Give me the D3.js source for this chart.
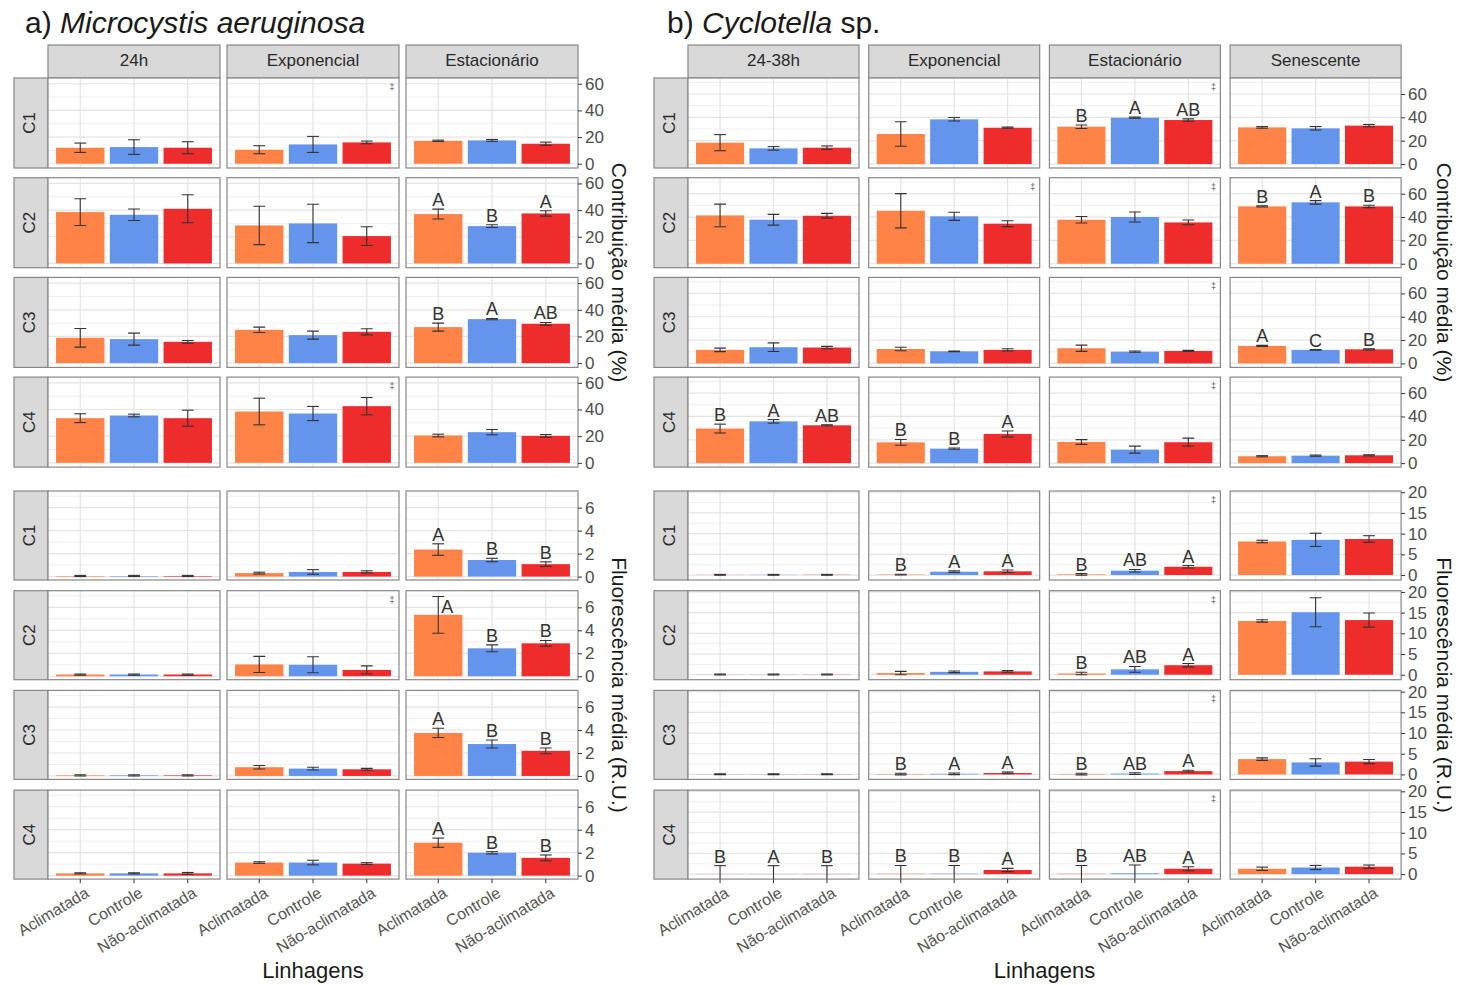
<!DOCTYPE html>
<html>
<head>
<meta charset="utf-8">
<script src="https://cdn.jsdelivr.net/npm/d3@7"></script>
<style>
  body { margin: 0; background: #fff; }
  text { font-family: "Liberation Sans", Arial, sans-serif; }
</style>
</head>
<body>
<svg width="1458" height="985"></svg>
<script>
// categories
var lineages = ["Aclimatada", "Controle", "Não-aclimatada"];
var components = ["C1", "C2", "C3", "C4"];
var phasesA = ["24h", "Exponencial", "Estacionário"];
var phasesB = ["24-38h", "Exponencial", "Estacionário", "Senescente"];

// tick labels
var ticksContrib = [0, 20, 40, 60];
var ticksFluorA = [0, 2, 4, 6];
var ticksFluorB = [0, 5, 10, 15, 20];

// a) Microcystis: [component][phase][lineage]
var contribA = [
  [[12, 12.5, 12], [10.5, 14.5, 16], [17.2, 17.5, 15]],
  [[38.5, 36.5, 41], [28.5, 30, 20.5], [37, 28, 37.5]],
  [[19, 18, 16], [25, 21, 23.5], [27, 33, 29.5]],
  [[33.5, 35.5, 33.5], [38.5, 37, 42.5], [20.5, 23, 20.2]]
];
var contribAErr = [
  [[3.5, 5.5, 4.5], [3, 6, 1], [0.5, 0.7, 1.2]],
  [[10, 4.3, 10.5], [14.4, 14.4, 7], [3.7, 1, 2]],
  [[7, 4.5, 1], [2, 3, 2.3], [3, 0.5, 1]],
  [[3.3, 1, 6], [10, 5.3, 6.5], [1, 2, 1]]
];
var lettersContribA = [
  [null, null, null],
  [null, null, "A B A"],
  [null, null, "B A AB"],
  [null, null, null]
];
var fluorA = [
  [[0.05, 0.05, 0.05], [0.3, 0.4, 0.4], [2.35, 1.44, 1.08]],
  [[0.15, 0.15, 0.15], [1.03, 1.0, 0.55], [5.35, 2.43, 2.87]],
  [[0.05, 0.05, 0.05], [0.76, 0.64, 0.58], [3.75, 2.78, 2.19]],
  [[0.2, 0.2, 0.2], [1.14, 1.14, 1.05], [2.87, 1.99, 1.55]]
];
var fluorAErr = [
  [[0.05, 0.05, 0.05], [0.08, 0.2, 0.1], [0.5, 0.15, 0.2]],
  [[0.05, 0.05, 0.05], [0.7, 0.7, 0.35], [1.6, 0.3, 0.25]],
  [[0.05, 0.05, 0.05], [0.15, 0.12, 0.08], [0.4, 0.35, 0.25]],
  [[0.05, 0.05, 0.08], [0.07, 0.2, 0.08], [0.4, 0.1, 0.25]]
];
var lettersFluorA = [
  [null, null, "A B B"],
  [null, null, "A B B"],
  [null, null, "A B B"],
  [null, null, "A B B"]
];

// b) Cyclotella
var contribB = [
  [[18.3, 13.4, 14], [25.7, 38.3, 31.1], [32, 39.7, 37.7], [31.4, 30.6, 32.9]],
  [[41.4, 37.7, 41.1], [45.4, 40.6, 34.3], [37.7, 40, 35.4], [49.1, 52.6, 49.1]],
  [[11.6, 13.9, 13.6], [12.4, 10.4, 11.6], [13, 10.1, 10.7], [15, 11.6, 12.1]],
  [[29.6, 35.8, 32.4], [17.8, 12.4, 25], [18.1, 11.6, 17.9], [5.9, 6.4, 6.7]]
];
var contribBErr = [
  [[6.9, 1.5, 1.5], [10.5, 1.5, 0.5], [1.5, 0.5, 1], [0.7, 1.5, 1]],
  [[9.7, 4.6, 2], [14.7, 3.5, 2.5], [2.8, 4.3, 2], [0.5, 1.5, 1]],
  [[1.5, 3.7, 1], [1.5, 0.3, 1], [2.7, 0.5, 0.5], [0.5, 0.3, 0.5]],
  [[3.8, 1.5, 0.5], [2.5, 0.5, 2.5], [2, 3, 3.5], [0.5, 0.5, 0.5]]
];
var lettersContribB = [
  [null, null, "B A AB", null],
  [null, null, null, "B A B"],
  [null, null, null, "A C B"],
  ["B A AB", "B B A", null, null]
];
var fluorB = [
  [[0.05, 0.05, 0.05], [0.1, 0.8, 0.9], [0.15, 1.05, 2.0], [8.1, 8.5, 8.7]],
  [[0.05, 0.05, 0.05], [0.4, 0.7, 0.8], [0.3, 1.3, 2.3], [13, 15.1, 13.2]],
  [[0.05, 0.05, 0.05], [0.1, 0.15, 0.35], [0.1, 0.2, 0.8], [3.7, 2.9, 3.1]],
  [[0.05, 0.05, 0.05], [0.1, 0.1, 1.0], [0.1, 0.2, 1.3], [1.3, 1.6, 1.8]]
];
var fluorBErr = [
  [[0.1, 0.1, 0.1], [0.1, 0.2, 0.3], [0.2, 0.3, 0.3], [0.3, 1.6, 0.8]],
  [[0.1, 0.1, 0.1], [0.4, 0.2, 0.2], [0.3, 0.7, 0.4], [0.3, 3.5, 1.7]],
  [[0.1, 0.1, 0.1], [0.2, 0.2, 0.2], [0.2, 0.2, 0.2], [0.3, 0.9, 0.5]],
  [[2, 2, 2], [2, 2, 0.4], [2, 2, 0.5], [0.4, 0.5, 0.4]]
];
var lettersFluorB = [
  [null, "B A A", "B AB A", null],
  [null, null, "B AB A", null],
  [null, "B A A", "B AB A", null],
  ["B A B", "B B A", "B AB A", null]
];

// small "‡" marks: [figure, block, component, phase]
var daggers = [
  ["a", "top", 0, 1], ["a", "top", 3, 1], ["a", "bot", 1, 1],
  ["b", "top", 1, 1], ["b", "top", 0, 2], ["b", "top", 1, 2], ["b", "top", 2, 2], ["b", "top", 3, 2],
  ["b", "bot", 0, 2], ["b", "bot", 1, 2], ["b", "bot", 2, 2], ["b", "bot", 3, 2]
];

var color = d3.scaleOrdinal().domain(lineages).range(["#FF8247", "#6495ED", "#EE2C2C"]);

var svg = d3.select("svg");

var figs = [
  { key: "a", lead: "a) ", italic: "Microcystis aeruginosa", tail: "", titleX: 25,
    phases: phasesA, x0: 48, colStep: 179, pw: 172, yTitleX: 612,
    blocks: [
      { key: "top", top: 78, ph: 90, domain: [-3.2, 64.3], ticks: ticksContrib, minor: 10,
        means: contribA, errs: contribAErr, letters: lettersContribA, title: "Contribuição média (%)", strips: true },
      { key: "bot", top: 491, ph: 89, domain: [-0.3, 7.45], ticks: ticksFluorA, minor: 1,
        means: fluorA, errs: fluorAErr, letters: lettersFluorA, title: "Fluorescência média (R.U.)", strips: false }
    ] },
  { key: "b", lead: "b) ", italic: "Cyclotella", tail: " sp.", titleX: 667,
    phases: phasesB, x0: 688, colStep: 180.7, pw: 171, yTitleX: 1437,
    blocks: [
      { key: "top", top: 78, ph: 90, domain: [-3.4, 73.7], ticks: ticksContrib, minor: 10,
        means: contribB, errs: contribBErr, letters: lettersContribB, title: "Contribuição média (%)", strips: true },
      { key: "bot", top: 491, ph: 89, domain: [-1.2, 20.3], ticks: ticksFluorB, minor: 2.5,
        means: fluorB, errs: fluorBErr, letters: lettersFluorB, title: "Fluorescência média (R.U.)", strips: false }
    ] }
];

var rowStep = 99.7;

figs.forEach(function(fig) {
  // title
  var t = svg.append("text")
    .attr("x", fig.titleX).attr("y", 33)
    .attr("font-size", 30).attr("fill", "#1a1a1a");
  t.append("tspan").text(fig.lead);
  t.append("tspan").attr("font-style", "italic").text(fig.italic);
  if (fig.tail) t.append("tspan").text(fig.tail);

  var right = fig.x0 + (fig.phases.length - 1) * fig.colStep + fig.pw;

  fig.blocks.forEach(function(block) {
    var y = d3.scaleLinear().domain(block.domain).range([block.ph, 0]);
    var x = d3.scalePoint().domain(lineages).range([0, fig.pw]).padding(0.6);
    var barW = x.step() * 0.9;
    var capW = x.step() * 0.22;
    var minors = d3.range(block.minor, block.domain[1], block.minor)
      .filter(function(v) { return block.ticks.indexOf(v) < 0; });

    // column strips
    if (block.strips) {
      fig.phases.forEach(function(ph, c) {
        var sx = fig.x0 + c * fig.colStep;
        svg.append("rect")
          .attr("x", sx).attr("y", 45).attr("width", fig.pw).attr("height", block.top - 45)
          .attr("fill", "#d9d9d9").attr("stroke", "#888").attr("stroke-width", 1.2);
        svg.append("text")
          .attr("x", sx + fig.pw / 2).attr("y", 62)
          .attr("text-anchor", "middle").attr("dominant-baseline", "middle")
          .attr("font-size", 17).attr("fill", "#2a2a2a").text(ph);
      });
    }

    components.forEach(function(comp, r) {
      var py = block.top + r * rowStep;

      // row strip
      svg.append("rect")
        .attr("x", fig.x0 - 34).attr("y", py).attr("width", 34).attr("height", block.ph)
        .attr("fill", "#d9d9d9").attr("stroke", "#888").attr("stroke-width", 1.2);
      svg.append("text")
        .attr("transform", "translate(" + (fig.x0 - 17) + "," + (py + block.ph / 2) + ") rotate(-90)")
        .attr("text-anchor", "middle").attr("dominant-baseline", "middle")
        .attr("font-size", 17).attr("fill", "#2a2a2a").text(comp);

      fig.phases.forEach(function(ph, c) {
        var px = fig.x0 + c * fig.colStep;
        var g = svg.append("g").attr("transform", "translate(" + px + "," + py + ")");
        var clipId = "clip-" + fig.key + "-" + block.key + "-" + r + "-" + c;
        g.append("clipPath").attr("id", clipId)
          .append("rect").attr("width", fig.pw).attr("height", block.ph);
        var body = g.append("g").attr("clip-path", "url(#" + clipId + ")");

        body.append("rect").attr("width", fig.pw).attr("height", block.ph).attr("fill", "#fff");

        // grid
        body.selectAll(".minor").data(minors).enter().append("line")
          .attr("x1", 0).attr("x2", fig.pw)
          .attr("y1", function(d) { return y(d); }).attr("y2", function(d) { return y(d); })
          .attr("stroke", "#f0f0f0").attr("stroke-width", 1);
        body.selectAll(".major").data(block.ticks).enter().append("line")
          .attr("x1", 0).attr("x2", fig.pw)
          .attr("y1", function(d) { return y(d); }).attr("y2", function(d) { return y(d); })
          .attr("stroke", "#e4e4e4").attr("stroke-width", 1.2);
        body.selectAll(".vgrid").data(lineages).enter().append("line")
          .attr("x1", function(d) { return x(d); }).attr("x2", function(d) { return x(d); })
          .attr("y1", 0).attr("y2", block.ph)
          .attr("stroke", "#e4e4e4").attr("stroke-width", 1.2);

        var rows = lineages.map(function(l, i) {
          return { lin: l, mean: block.means[r][c][i], err: block.errs[r][c][i] };
        });

        // bars
        body.selectAll(".bar").data(rows).enter().append("rect")
          .attr("x", function(d) { return x(d.lin) - barW / 2; })
          .attr("width", barW)
          .attr("y", function(d) { return y(d.mean); })
          .attr("height", function(d) { return y(0) - y(d.mean); })
          .attr("fill", function(d) { return color(d.lin); });

        // error bars
        var eb = body.selectAll(".err").data(rows).enter().append("g")
          .attr("stroke", "#333").attr("stroke-width", 1.1);
        eb.append("line")
          .attr("x1", function(d) { return x(d.lin); }).attr("x2", function(d) { return x(d.lin); })
          .attr("y1", function(d) { return y(d.mean - d.err); })
          .attr("y2", function(d) { return y(d.mean + d.err); });
        eb.append("line")
          .attr("x1", function(d) { return x(d.lin) - capW / 2; })
          .attr("x2", function(d) { return x(d.lin) + capW / 2; })
          .attr("y1", function(d) { return y(d.mean + d.err); })
          .attr("y2", function(d) { return y(d.mean + d.err); });
        eb.append("line")
          .attr("x1", function(d) { return x(d.lin) - capW / 2; })
          .attr("x2", function(d) { return x(d.lin) + capW / 2; })
          .attr("y1", function(d) { return y(d.mean - d.err); })
          .attr("y2", function(d) { return y(d.mean - d.err); });

        // significance letters; a letter that would leave the panel is moved beside its error bar
        var lt = block.letters[r][c];
        if (lt) {
          var parts = lt.split(" ");
          g.selectAll(".letter").data(rows).enter().append("text")
            .attr("x", function(d) {
              return x(d.lin) + (y(d.mean + d.err) - 3 < 12 ? 9 : 0);
            })
            .attr("y", function(d) {
              var yy = y(d.mean + d.err) - 3;
              return yy < 12 ? 22 : yy;
            })
            .attr("text-anchor", "middle")
            .attr("font-size", 18).attr("fill", "#333")
            .text(function(d, i) { return parts[i]; });
        }

        // dagger marks
        daggers.forEach(function(m) {
          if (m[0] === fig.key && m[1] === block.key && m[2] === r && m[3] === c) {
            g.append("text").attr("x", fig.pw - 7).attr("y", 12)
              .attr("text-anchor", "middle").attr("font-size", 9).attr("fill", "#555").text("‡");
          }
        });

        // panel border
        g.append("rect").attr("width", fig.pw).attr("height", block.ph)
          .attr("fill", "none").attr("stroke", "#888").attr("stroke-width", 1.2);

        // right axis
        if (c === fig.phases.length - 1) {
          var ax = g.append("g").attr("transform", "translate(" + fig.pw + ",0)")
            .call(d3.axisRight(y).tickValues(block.ticks).tickSize(4).tickPadding(3));
          ax.select(".domain").remove();
          ax.selectAll("line").attr("stroke", "#333");
          ax.selectAll("text").attr("font-size", 17).attr("fill", "#4d4d4d")
            .attr("font-family", "Liberation Sans, Arial, sans-serif");
        }

        // bottom axis labels
        if (block.key === "bot" && r === components.length - 1) {
          var bx = g.append("g").attr("transform", "translate(0," + block.ph + ")");
          bx.selectAll("line").data(lineages).enter().append("line")
            .attr("x1", function(d) { return x(d); }).attr("x2", function(d) { return x(d); })
            .attr("y1", 0).attr("y2", 4).attr("stroke", "#333");
          bx.selectAll("text").data(lineages).enter().append("text")
            .attr("transform", function(d) { return "translate(" + (x(d) + 4) + ",7) rotate(-31)"; })
            .attr("text-anchor", "end").attr("dy", "0.71em")
            .attr("font-size", 16).attr("fill", "#555").text(function(d) { return d; });
        }
      });
    });

    // y title on the right
    var cy = block.top + (components.length * rowStep - (rowStep - block.ph)) / 2;
    svg.append("text")
      .attr("transform", "translate(" + fig.yTitleX + "," + cy + ") rotate(90)")
      .attr("text-anchor", "middle")
      .attr("font-size", 21).attr("fill", "#1a1a1a").text(block.title);
  });

  // x title
  svg.append("text")
    .attr("x", (fig.x0 + right) / 2).attr("y", 978)
    .attr("text-anchor", "middle")
    .attr("font-size", 22).attr("fill", "#1a1a1a").text("Linhagens");
});
</script>
</body>
</html>
